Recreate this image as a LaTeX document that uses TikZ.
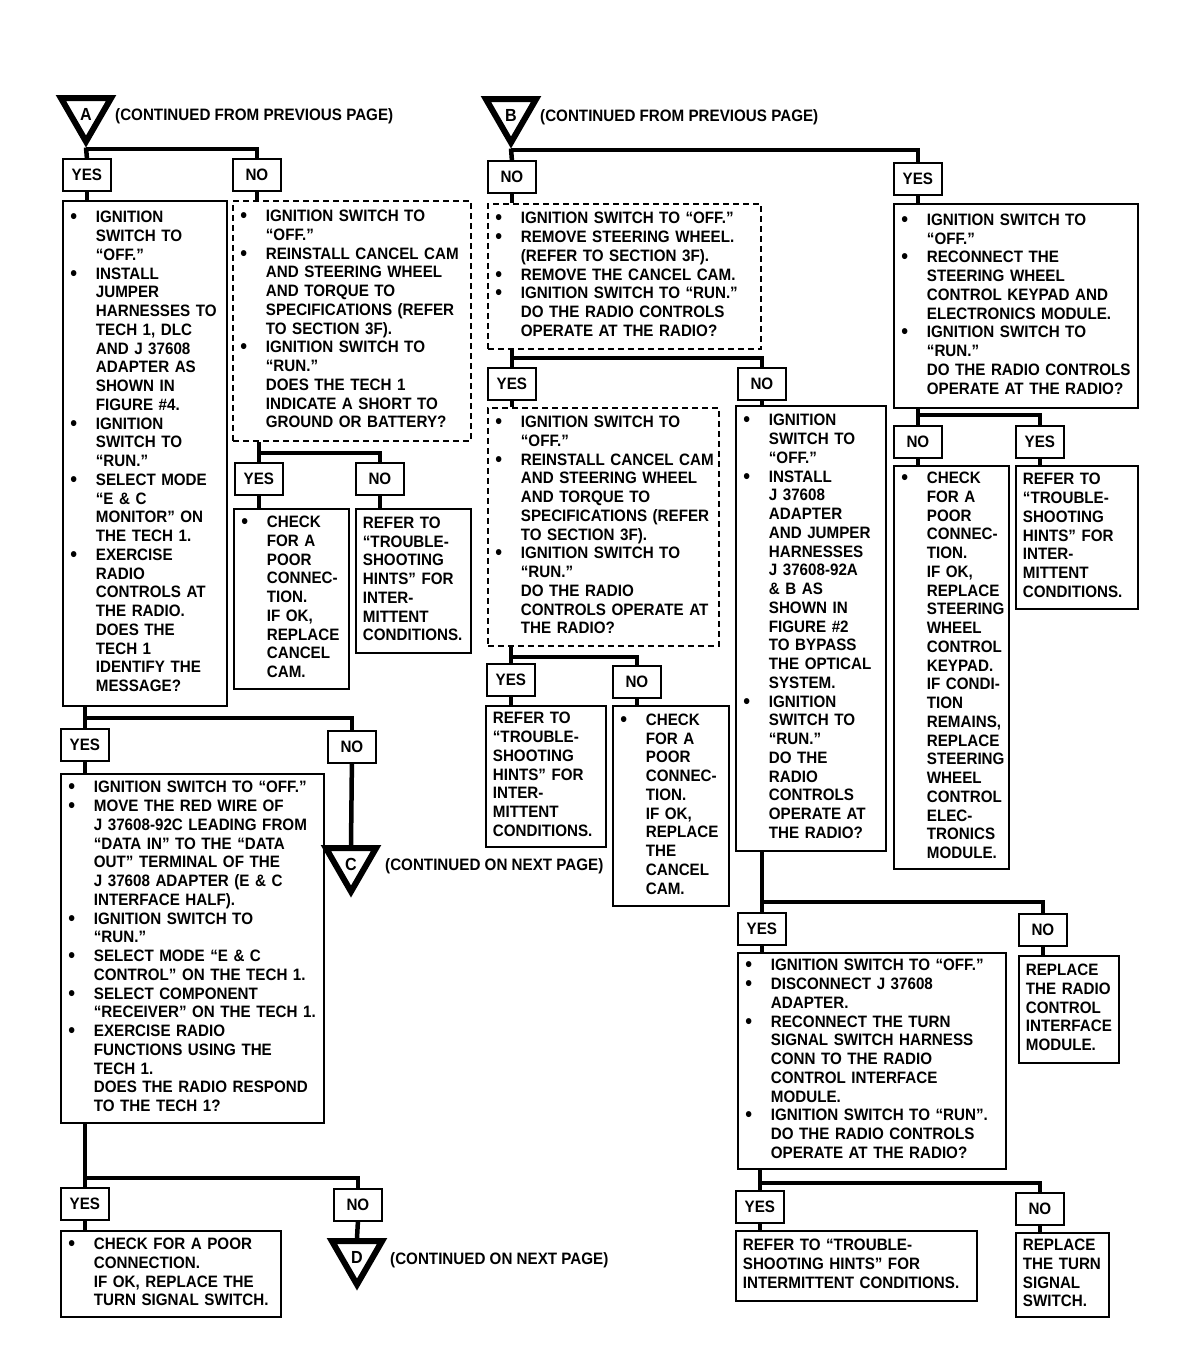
\documentclass[tikz,border=0pt]{standalone}
\usepackage{fontspec}
\setmainfont{Liberation Sans}[FakeStretch=0.92]
\usetikzlibrary{shapes.geometric}
\newcommand{\bul}{\makebox[26pt][l]{\hspace{0.5pt}\raisebox{-1pt}{\fontsize{21}{0}\selectfont\textbullet}}}
\newcommand{\indt}{\hspace*{26pt}}
\newcommand{\panelrows}[1]{\begin{tabular}{@{}l@{}}#1\end{tabular}}
\begin{document}
\begin{tikzpicture}[x=1pt,y=-1pt,
    every node/.style={font=\bfseries\fontsize{16.5}{18.75}\selectfont},
    panel/.style 2 args={draw,line width=1.8pt,anchor=north west,minimum width=#1,minimum height=#2,
        text width=#1-14,inner xsep=7pt,inner ysep=0pt,align=left},
    dpanel/.style 2 args={panel={#1}{#2},dash pattern=on 6pt off 4pt},
    lbl/.style={draw,line width=1.8pt,anchor=north west,minimum width=48,minimum height=32,inner sep=0pt},
    conn/.style={line width=4.5pt},
    tri/.style={regular polygon,regular polygon sides=3,shape border rotate=180,draw,line width=6pt,
        minimum size=58,inner sep=0pt,text height=15pt,text depth=0pt,
        font=\bfseries\fontsize{17.5}{17.5}\selectfont},
    cont/.style={anchor=west,inner sep=0pt}]
    \useasboundingbox[fill=white] (0,0) rectangle (1184,1360);

    % Entry A
    \node[tri] (triA) at (86,112.5) {A};
    \node[cont] (contA) at (115,116) {(CONTINUED FROM PREVIOUS PAGE)};
    \coordinate (barA) at (86,149);
    \node[lbl] (ayes) at (62,158) {YES};
    \node[lbl] (ano) at (232,158) {NO};

    \node[panel={164}{505}] (ay) at (62,200) {\panelrows{%
        \bul IGNITION\\ \indt SWITCH TO\\ \indt ``OFF.''\\
        \bul INSTALL\\ \indt JUMPER\\ \indt HARNESSES TO\\ \indt TECH 1, DLC\\
        \indt AND J 37608\\ \indt ADAPTER AS\\ \indt SHOWN IN\\ \indt FIGURE \#4.\\
        \bul IGNITION\\ \indt SWITCH TO\\ \indt ``RUN.''\\
        \bul SELECT MODE\\ \indt ``E \& C\\ \indt MONITOR'' ON\\ \indt THE TECH 1.\\
        \bul EXERCISE\\ \indt RADIO\\ \indt CONTROLS AT\\ \indt THE RADIO.\\
        \indt DOES THE\\ \indt TECH 1\\ \indt IDENTIFY THE\\ \indt MESSAGE?}};
    \node[dpanel={238}{240}] (an) at (232,200) {\panelrows{%
        \bul IGNITION SWITCH TO\\ \indt ``OFF.''\\
        \bul REINSTALL CANCEL CAM\\ \indt AND STEERING WHEEL\\ \indt AND TORQUE TO\\
        \indt SPECIFICATIONS (REFER\\ \indt TO SECTION 3F).\\
        \bul IGNITION SWITCH TO\\ \indt ``RUN.''\\ \indt DOES THE TECH 1\\
        \indt INDICATE A SHORT TO\\ \indt GROUND OR BATTERY?}};

    \coordinate (barAn) at (258,453);
    \node[lbl] (anyes) at (234,462) {YES};
    \node[lbl] (anno) at (355,462) {NO};
    \node[panel={115}{180}] (anyb) at (233,508) {\panelrows{%
        \bul CHECK\\ \indt FOR A\\ \indt POOR\\ \indt CONNEC-\\ \indt TION.\\
        \indt IF OK,\\ \indt REPLACE\\ \indt CANCEL\\ \indt CAM.}};
    \node[panel={115}{144}] (annb) at (355,508) {\panelrows{%
        REFER TO\\ ``TROUBLE-\\ SHOOTING\\ HINTS'' FOR\\ INTER-\\ MITTENT\\ CONDITIONS.}};

    \coordinate (barAy) at (84,718);
    \node[lbl] (ayyes) at (60,728) {YES};
    \node[lbl] (ayno) at (327,730) {NO};
    \node[tri] (triC) at (351,862.5) {C};
    \node[cont] (contC) at (385,866) {(CONTINUED ON NEXT PAGE)};
    \node[panel={263}{349}] (ayy) at (60,773) {\panelrows{%
        \bul IGNITION SWITCH TO ``OFF.''\\
        \bul MOVE THE RED WIRE OF\\ \indt J 37608-92C LEADING FROM\\
        \indt ``DATA IN'' TO THE ``DATA\\ \indt OUT'' TERMINAL OF THE\\
        \indt J 37608 ADAPTER (E \& C\\ \indt INTERFACE HALF).\\
        \bul IGNITION SWITCH TO\\ \indt ``RUN.''\\
        \bul SELECT MODE ``E \& C\\ \indt CONTROL'' ON THE TECH 1.\\
        \bul SELECT COMPONENT\\ \indt ``RECEIVER'' ON THE TECH 1.\\
        \bul EXERCISE RADIO\\ \indt FUNCTIONS USING THE\\ \indt TECH 1.\\
        \indt DOES THE RADIO RESPOND\\ \indt TO THE TECH 1?}};

    \coordinate (barAyy) at (84,1178);
    \node[lbl] (ayyyes) at (60,1187) {YES};
    \node[lbl] (ayyno) at (333,1188) {NO};
    \node[tri] (triD) at (357,1255.5) {D};
    \node[cont] (contD) at (390,1260) {(CONTINUED ON NEXT PAGE)};
    \node[panel={220}{86}] (ayyy) at (60,1230) {\panelrows{%
        \bul CHECK FOR A POOR\\ \indt CONNECTION.\\ \indt IF OK, REPLACE THE\\
        \indt TURN SIGNAL SWITCH.}};

    % Entry B
    \node[tri] (triB) at (511,113.5) {B};
    \node[cont] (contB) at (540,117) {(CONTINUED FROM PREVIOUS PAGE)};
    \coordinate (barB) at (511,150);
    \node[lbl] (bno) at (487,160) {NO};
    \node[lbl] (byes) at (893,162) {YES};

    \node[dpanel={273}{145}] (bn) at (487,203) {\panelrows{%
        \bul IGNITION SWITCH TO ``OFF.''\\
        \bul REMOVE STEERING WHEEL.\\ \indt (REFER TO SECTION 3F).\\
        \bul REMOVE THE CANCEL CAM.\\
        \bul IGNITION SWITCH TO ``RUN.''\\ \indt DO THE RADIO CONTROLS\\
        \indt OPERATE AT THE RADIO?}};

    \coordinate (barBn) at (511,358);
    \node[lbl] (bnyes) at (487,367) {YES};
    \node[lbl] (bnno) at (737,367) {NO};
    \node[dpanel={231}{238}] (bny) at (487,407) {\panelrows{%
        \bul IGNITION SWITCH TO\\ \indt ``OFF.''\\
        \bul REINSTALL CANCEL CAM\\ \indt AND STEERING WHEEL\\ \indt AND TORQUE TO\\
        \indt SPECIFICATIONS (REFER\\ \indt TO SECTION 3F).\\
        \bul IGNITION SWITCH TO\\ \indt ``RUN.''\\ \indt DO THE RADIO\\
        \indt CONTROLS OPERATE AT\\ \indt THE RADIO?}};
    \node[panel={150}{445}] (bnn) at (735,405) {\panelrows{%
        \bul IGNITION\\ \indt SWITCH TO\\ \indt ``OFF.''\\
        \bul INSTALL\\ \indt J 37608\\ \indt ADAPTER\\ \indt AND JUMPER\\
        \indt HARNESSES\\ \indt J 37608-92A\\ \indt \& B AS\\ \indt SHOWN IN\\
        \indt FIGURE \#2\\ \indt TO BYPASS\\ \indt THE OPTICAL\\ \indt SYSTEM.\\
        \bul IGNITION\\ \indt SWITCH TO\\ \indt ``RUN.''\\ \indt DO THE\\
        \indt RADIO\\ \indt CONTROLS\\ \indt OPERATE AT\\ \indt THE RADIO?}};

    \coordinate (barBny) at (510,657);
    \node[lbl] (bnyyes) at (486,663) {YES};
    \node[lbl] (bnyno) at (612,665) {NO};
    \node[panel={120}{141}] (bnyy) at (485,705) {\panelrows{%
        REFER TO\\ ``TROUBLE-\\ SHOOTING\\ HINTS'' FOR\\ INTER-\\ MITTENT\\ CONDITIONS.}};
    \node[panel={116}{200}] (bnyn) at (612,705) {\panelrows{%
        \bul CHECK\\ \indt FOR A\\ \indt POOR\\ \indt CONNEC-\\ \indt TION.\\
        \indt IF OK,\\ \indt REPLACE\\ \indt THE\\ \indt CANCEL\\ \indt CAM.}};

    \coordinate (barBnn) at (761,902);
    \node[lbl] (bnnyes) at (737,912) {YES};
    \node[lbl] (bnnno) at (1018,913) {NO};
    \node[panel={268}{216}] (bnny) at (737,952) {\panelrows{%
        \bul IGNITION SWITCH TO ``OFF.''\\
        \bul DISCONNECT J 37608\\ \indt ADAPTER.\\
        \bul RECONNECT THE TURN\\ \indt SIGNAL SWITCH HARNESS\\
        \indt CONN TO THE RADIO\\ \indt CONTROL INTERFACE\\ \indt MODULE.\\
        \bul IGNITION SWITCH TO ``RUN''.\\ \indt DO THE RADIO CONTROLS\\
        \indt OPERATE AT THE RADIO?}};
    \node[panel={100}{107}] (bnnn) at (1018,955) {\panelrows{%
        REPLACE\\ THE RADIO\\ CONTROL\\ INTERFACE\\ MODULE.}};

    \coordinate (barBnny) at (759,1183);
    \node[lbl] (bnnyyes) at (735,1190) {YES};
    \node[lbl] (bnnyno) at (1015,1192) {NO};
    \node[panel={241}{70}] (bnnyy) at (735,1230) {\panelrows{%
        REFER TO ``TROUBLE-\\ SHOOTING HINTS'' FOR\\ INTERMITTENT CONDITIONS.}};
    \node[panel={93}{84}] (bnnyn) at (1015,1232) {\panelrows{%
        REPLACE\\ THE TURN\\ SIGNAL\\ SWITCH.}};

    \node[panel={244}{204}] (by) at (893,203) {\panelrows{%
        \bul IGNITION SWITCH TO\\ \indt ``OFF.''\\
        \bul RECONNECT THE\\ \indt STEERING WHEEL\\ \indt CONTROL KEYPAD AND\\
        \indt ELECTRONICS MODULE.\\
        \bul IGNITION SWITCH TO\\ \indt ``RUN.''\\ \indt DO THE RADIO CONTROLS\\
        \indt OPERATE AT THE RADIO?}};

    \coordinate (barBy) at (917,415);
    \node[lbl] (byno) at (893,425) {NO};
    \node[lbl] (byyes) at (1015,425) {YES};
    \node[panel={115}{403}] (byn) at (893,465) {\panelrows{%
        \bul CHECK\\ \indt FOR A\\ \indt POOR\\ \indt CONNEC-\\ \indt TION.\\
        \indt IF OK,\\ \indt REPLACE\\ \indt STEERING\\ \indt WHEEL\\ \indt CONTROL\\
        \indt KEYPAD.\\ \indt IF CONDI-\\ \indt TION\\ \indt REMAINS,\\ \indt REPLACE\\
        \indt STEERING\\ \indt WHEEL\\ \indt CONTROL\\ \indt ELEC-\\ \indt TRONICS\\
        \indt MODULE.}};
    \node[panel={122}{143}] (byy) at (1015,465) {\panelrows{%
        REFER TO\\ ``TROUBLE-\\ SHOOTING\\ HINTS'' FOR\\ INTER-\\ MITTENT\\ CONDITIONS.}};

    % Connectors A side
    \draw[conn] (triA.south) -- (ayes.north);
    \draw[conn] (barA) -| (ano.north);
    \draw[conn] (ayes.south) -- (ay.north -| ayes.south);
    \draw[conn] (ano.south) -- (an.north -| ano.south);
    \draw[conn] (an.south -| anyes.north) -- (anyes.north);
    \draw[conn] (barAn) -| (anno.north);
    \draw[conn] (anyes.south) -- (anyb.north -| anyes.south);
    \draw[conn] (anno.south) -- (annb.north -| anno.south);
    \draw[conn] (ay.south -| ayyes.north) -- (ayyes.north);
    \draw[conn] (barAy) -| (ayno.north);
    \draw[conn] (ayyes.south) -- (ayy.north -| ayyes.south);
    \draw[conn] (ayno.south) -- (triC.north);
    \draw[conn] (ayy.south -| ayyyes.north) -- (ayyyes.north);
    \draw[conn] (barAyy) -| (ayyno.north);
    \draw[conn] (ayyyes.south) -- (ayyy.north -| ayyyes.south);
    \draw[conn] (ayyno.south) -- (triD.north);

    % Connectors B side
    \draw[conn] (triB.south) -- (bno.north);
    \draw[conn] (barB) -| (byes.north);
    \draw[conn] (bno.south) -- (bn.north -| bno.south);
    \draw[conn] (byes.south) -- (by.north -| byes.south);
    \draw[conn] (bn.south -| bnyes.north) -- (bnyes.north);
    \draw[conn] (barBn) -| (bnno.north);
    \draw[conn] (bnyes.south) -- (bny.north -| bnyes.south);
    \draw[conn] (bnno.south) -- (bnn.north -| bnno.south);
    \draw[conn] (bny.south -| bnyyes.north) -- (bnyyes.north);
    \draw[conn] (barBny) -| (bnyno.north);
    \draw[conn] (bnyyes.south) -- (bnyy.north -| bnyyes.south);
    \draw[conn] (bnyno.south) -- (bnyn.north -| bnyno.south);
    \draw[conn] (bnn.south -| bnnyes.north) -- (bnnyes.north);
    \draw[conn] (barBnn) -| (bnnno.north);
    \draw[conn] (bnnyes.south) -- (bnny.north -| bnnyes.south);
    \draw[conn] (bnnno.south) -- (bnnn.north -| bnnno.south);
    \draw[conn] (bnny.south -| bnnyyes.north) -- (bnnyyes.north);
    \draw[conn] (barBnny) -| (bnnyno.north);
    \draw[conn] (bnnyyes.south) -- (bnnyy.north -| bnnyyes.south);
    \draw[conn] (bnnyno.south) -- (bnnyn.north -| bnnyno.south);
    \draw[conn] (by.south -| byno.north) -- (byno.north);
    \draw[conn] (barBy) -| (byyes.north);
    \draw[conn] (byno.south) -- (byn.north -| byno.south);
    \draw[conn] (byyes.south) -- (byy.north -| byyes.south);
\end{tikzpicture}
\end{document}
